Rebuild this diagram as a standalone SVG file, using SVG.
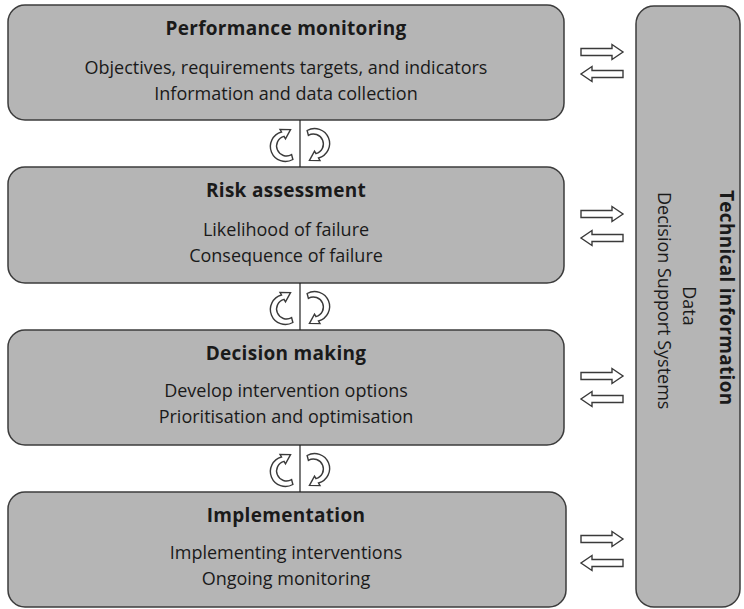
<svg xmlns="http://www.w3.org/2000/svg" xmlns:xlink="http://www.w3.org/1999/xlink" width="744" height="609" viewBox="0 0 744 609">
<defs>
<style>
.box{fill:#b5b5b5;stroke:#3c3c3c;stroke-width:1.5}
.t{font-family:"Open Sans",Lato,"Liberation Sans",sans-serif;font-size:18px;fill:#1a1a1a;text-anchor:middle}
.b{font-weight:bold;font-size:19px;letter-spacing:0.3px}
.s{text-anchor:start}
.ar{fill:#ffffff;stroke:#3a3a3a;stroke-width:1.4;stroke-linejoin:miter}
.ln{stroke:#222;stroke-width:1.2;fill:none}
</style>
<path id="rarrow" class="ar" d="M-21,-3.5 H10 V-7.5 L21,0 L10,7.5 V3.5 H-21 Z"/>
<path id="curl" class="ar" d="M3.88,14.49 A15,15 0 1 1 -7.5,-12.99 L-9,-15.59 L1.54,-15.33 L-3.5,-6.06 L-5,-8.66 A10,10 0 1 0 2.59,9.66 Z"/>
</defs>

<g id="performance-monitoring">
<rect class="box" x="8" y="5" width="556" height="115" rx="17"/>
<text class="t b" x="286" y="35">Performance monitoring</text>
<text class="t" x="286" y="74">Objectives, requirements targets, and indicators</text>
<text class="t" x="286" y="100">Information and data collection</text>
</g>

<g id="risk-assessment">
<rect class="box" x="8" y="167" width="556" height="116" rx="17"/>
<text class="t b" x="286" y="197">Risk assessment</text>
<text class="t" x="286" y="236">Likelihood of failure</text>
<text class="t" x="286" y="262">Consequence of failure</text>
</g>

<g id="decision-making">
<rect class="box" x="8" y="330" width="556" height="115" rx="17"/>
<text class="t b" x="286" y="360">Decision making</text>
<text class="t" x="286" y="397">Develop intervention options</text>
<text class="t" x="286" y="423">Prioritisation and optimisation</text>
</g>

<g id="implementation">
<rect class="box" x="8" y="492" width="558" height="115" rx="17"/>
<text class="t b" x="286" y="522">Implementation</text>
<text class="t" x="286" y="559">Implementing interventions</text>
<text class="t" x="286" y="585">Ongoing monitoring</text>
</g>

<g id="technical-information">
<rect class="box" x="636" y="6" width="104" height="601" rx="18"/>
<text class="t b s" transform="translate(720,190) rotate(90)">Technical information</text>
<text class="t" transform="translate(683,306) rotate(90)">Data</text>
<text class="t s" transform="translate(658,192) rotate(90)">Decision Support Systems</text>
</g>

<g id="connectors">
<line class="ln" x1="300" y1="120" x2="300" y2="167"/>
<line class="ln" x1="300" y1="283" x2="300" y2="330"/>
<line class="ln" x1="300" y1="445" x2="300" y2="492"/>
<use xlink:href="#curl" transform="translate(289,145)"/>
<use xlink:href="#curl" transform="translate(311,145) rotate(180)"/>
<use xlink:href="#curl" transform="translate(289,308)"/>
<use xlink:href="#curl" transform="translate(311,308) rotate(180)"/>
<use xlink:href="#curl" transform="translate(289,470)"/>
<use xlink:href="#curl" transform="translate(311,470) rotate(180)"/>
<use xlink:href="#rarrow" transform="translate(602,52)"/>
<use xlink:href="#rarrow" transform="translate(602,74) scale(-1,1)"/>
<use xlink:href="#rarrow" transform="translate(602,214)"/>
<use xlink:href="#rarrow" transform="translate(602,238) scale(-1,1)"/>
<use xlink:href="#rarrow" transform="translate(602,376)"/>
<use xlink:href="#rarrow" transform="translate(602,399) scale(-1,1)"/>
<use xlink:href="#rarrow" transform="translate(602,539)"/>
<use xlink:href="#rarrow" transform="translate(602,563) scale(-1,1)"/>
</g>
</svg>
